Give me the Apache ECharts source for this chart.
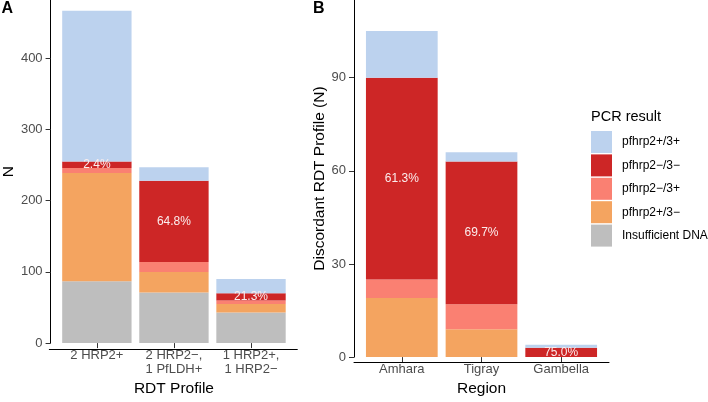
<!DOCTYPE html>
<html><head><meta charset="utf-8">
<script src="https://cdn.jsdelivr.net/npm/echarts@6/dist/echarts.min.js"></script>
<style>html,body{margin:0;padding:0;background:#fff}#c{width:708px;height:402px}</style>
</head><body><div id="c"></div>
<script>
// ---- data ----
const profileCats = ['2 HRP2+', '2 HRP2\u2212,\n1 PfLDH+', '1 HRP2+,\n1 HRP2\u2212'];
const regionCats = ['Amhara', 'Tigray', 'Gambella'];
const pcrNames = ['pfhrp2+/3+', 'pfhrp2\u2212/3\u2212', 'pfhrp2\u2212/3+', 'pfhrp2+/3\u2212', 'Insufficient DNA'];
// panel A (RDT profile), bottom to top
const profileInsufficient = [87, 71, 43];
const profilePos2Neg3 = [152, 29, 12];
const profileNeg2Pos3 = [7, 14, 5];
const profileNeg2Neg3 = [9, 114, 10];
const profilePos2Pos3 = [212, 19, 20];
const profilePct = ['2.4%', '64.8%', '21.3%'];
// panel B (region), bottom to top
const regionInsufficient = [0, 0, 0];
const regionPos2Neg3 = [19, 9, 0];
const regionNeg2Pos3 = [6, 8, 0];
const regionNeg2Neg3 = [65, 46, 3];
const regionPos2Pos3 = [15, 3, 1];
const regionPct = ['61.3%', '69.7%', '75.0%'];
const profileTicks = [0, 100, 200, 300, 400];
const regionTicks = [0, 30, 60, 90];

const colors = {
  'pfhrp2+/3+': '#BCD2EE',
  'pfhrp2\u2212/3\u2212': '#CD2626',
  'pfhrp2\u2212/3+': '#FA8072',
  'pfhrp2+/3\u2212': '#F4A460',
  'Insufficient DNA': '#BEBEBE'
};
const FONT = 'Liberation Sans, Arial, Helvetica, sans-serif';

const chart = echarts.init(document.getElementById('c'));

function makeSeries(gridIdx, stack, stackArrays, pct) {
  const order = ['Insufficient DNA', 'pfhrp2+/3\u2212', 'pfhrp2\u2212/3+', 'pfhrp2\u2212/3\u2212', 'pfhrp2+/3+'];
  return order.map((name, k) => {
    const s = {
      name: name, type: 'bar', stack: stack,
      xAxisIndex: gridIdx, yAxisIndex: gridIdx,
      barWidth: '90%',
      itemStyle: { color: colors[name] },
      emphasis: { disabled: true },
      data: stackArrays[k]
    };
    if (name === 'pfhrp2\u2212/3\u2212') {
      s.label = {
        show: true, position: 'inside',
        formatter: p => pct[p.dataIndex],
        color: '#FBEDED', fontSize: 12, fontFamily: FONT
      };
    }
    return s;
  });
}

const tickLabelStyle = { color: '#4D4D4D', fontSize: 13, fontFamily: FONT };
const nameStyle = { color: '#000', fontSize: 15.5, fontFamily: FONT };

// panel geometry (ggplot-like 0.6 band expansion on discrete axis)
const A = { left: 49.3, width: 248, top: 0, height: 349 };
const B = { left: 354, width: 255, top: 0, height: 362.7 };
function inner(g) { const u = g.width / 3.2; return { left: g.left + 0.1 * u, width: 3 * u, top: g.top, height: g.height, pad: 0.1 * u }; }
const Ai = inner(A), Bi = inner(B);

function catAxis(gridIdx, cats, nameGap, name) {
  return {
    type: 'category', gridIndex: gridIdx, data: cats, boundaryGap: true,
    name: name, nameLocation: 'middle', nameGap: nameGap, nameTextStyle: nameStyle,
    axisLine: { show: false },
    axisTick: { show: true, length: 5, alignWithLabel: true, lineStyle: { color: '#333' } },
    axisLabel: Object.assign({ margin: 5, lineHeight: 14, interval: 0 }, tickLabelStyle),
    splitLine: { show: false }
  };
}
function lineAxis(gridIdx) {
  return {
    type: 'value', gridIndex: gridIdx, min: 0, max: 1,
    axisLine: { show: true, onZero: false, lineStyle: { color: '#000', width: 1 } },
    axisTick: { show: false }, axisLabel: { show: false }, splitLine: { show: false }
  };
}
function yAxisFor(gridIdx, max, interval, ticks, nameGap, name, offset) {
  return {
    type: 'value', gridIndex: gridIdx, min: 0, max: max, interval: interval, offset: offset,
    name: name, nameLocation: 'middle', nameGap: nameGap, nameRotate: 90, nameTextStyle: nameStyle,
    axisLine: { show: true, lineStyle: { color: '#000', width: 1 } },
    axisTick: { show: true, length: 5, customValues: ticks, lineStyle: { color: '#333' } },
    axisLabel: Object.assign({ margin: 8, customValues: ticks }, tickLabelStyle),
    splitLine: { show: false }
  };
}
function hiddenY(gridIdx) {
  return { type: 'value', gridIndex: gridIdx, min: 0, max: 1, show: false };
}

chart.setOption({
  animation: false,
  backgroundColor: '#fff',
  textStyle: { fontFamily: FONT },
  title: {
    text: 'PCR result', left: 591, top: 109, padding: 0,
    textStyle: { fontSize: 14.5, fontWeight: 'normal', color: '#000', fontFamily: FONT }
  },
  legend: {
    orient: 'vertical', left: 591, top: 131, padding: 0,
    itemWidth: 21, itemHeight: 22, itemGap: 1.4, icon: 'rect',
    data: pcrNames, selectedMode: false,
    textStyle: { fontSize: 12, color: '#000', fontFamily: FONT, padding: [0, 0, 0, 5] }
  },
  graphic: [
    { type: 'text', left: 1.5, top: 1, style: { text: 'A', font: 'bold 16px ' + FONT, fill: '#000' } },
    { type: 'text', left: 313, top: 1, style: { text: 'B', font: 'bold 16px ' + FONT, fill: '#000' } }
  ],
  grid: [
    { left: Ai.left, top: Ai.top, width: Ai.width, height: Ai.height },
    { left: Bi.left, top: Bi.top, width: Bi.width, height: Bi.height },
    { left: A.left, top: A.top, width: A.width, height: A.height },
    { left: B.left, top: B.top, width: B.width, height: B.height }
  ],
  xAxis: [
    catAxis(0, profileCats, 35, 'RDT Profile'),
    catAxis(1, regionCats, 21, 'Region'),
    lineAxis(2),
    lineAxis(3)
  ],
  yAxis: [
    yAxisFor(0, 482, 100, profileTicks, 33, 'N', Ai.pad),
    yAxisFor(1, 115, 30, regionTicks, 25.5, 'Discordant RDT Profile (N)', Bi.pad),
    hiddenY(2),
    hiddenY(3)
  ],
  series: [].concat(
    makeSeries(0, 'profile', [profileInsufficient, profilePos2Neg3, profileNeg2Pos3, profileNeg2Neg3, profilePos2Pos3], profilePct),
    makeSeries(1, 'region', [regionInsufficient, regionPos2Neg3, regionNeg2Pos3, regionNeg2Neg3, regionPos2Pos3], regionPct)
  )
});
</script>
</body></html>
